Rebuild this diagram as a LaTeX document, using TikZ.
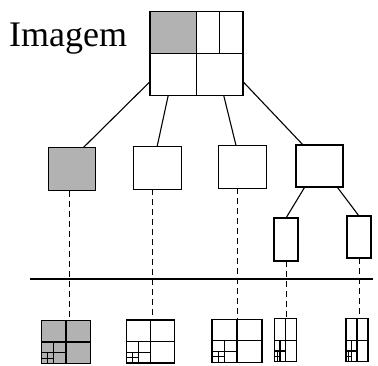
\documentclass[tikz,border=0pt]{standalone}
\usepackage{fontspec}
\setmainfont{Liberation Serif}
\usepackage{tikz}
\usetikzlibrary{calc}
\usetikzlibrary{positioning}
\definecolor{cellgray}{gray}{0.70}

\begin{document}
\begin{tikzpicture}[x=1pt,y=-1pt,
			box/.style = {
				draw, line width=1.3pt, inner sep=0pt, outer sep=0pt,
				minimum height=43pt
			},
			link/.style = {line width=1.1pt},
			drop/.style = {line width=1pt, dash pattern=on 6pt off 4pt},
			quadgrid/.style = {
				box, path picture={
					\foreach \f in {0.5,0.25,0.125}{
						\draw[line width=1.2pt] let \p1=(path picture bounding box.south west),
						\p2=(path picture bounding box.north east) in
						({\x1+\f*(\x2-\x1)},\y1) -- ({\x1+\f*(\x2-\x1)},{\y1+2*\f*(\y2-\y1)})
						(\x1,{\y1+\f*(\y2-\y1)}) -- ({\x1+2*\f*(\x2-\x1)},{\y1+\f*(\y2-\y1)});
					}
				}
			}]
			\useasboundingbox (0,0) rectangle (378,365);
			% imagem inteira
			\node (label) [anchor=base west, inner sep=0pt,
			font=\fontsize{36}{40}\selectfont] at (9,46.7) {Imagem};
			\node (img) [box, minimum width=93pt, minimum height=84pt,
			path picture={
				\fill[cellgray] (path picture bounding box.north west) rectangle (path picture bounding box.center);
				\draw[line width=1.3pt] (path picture bounding box.north) -- (path picture bounding box.south)
				(path picture bounding box.west) -- (path picture bounding box.east)
				($(path picture bounding box.north)!0.5!(path picture bounding box.north east)$)
				-- ($(path picture bounding box.center)!0.5!(path picture bounding box.east)$);
			}] at (196.5,53.7) {};
			% primeiro nivel
			\node (a) [box, fill=cellgray, minimum width=47pt] at (72,169) {};
			\node (b) [box, minimum width=48pt] at (157.2,167.7) {};
			\node (c) [box, minimum width=48pt] at (242.5,166.7) {};
			\node (d) [box, minimum width=47pt, minimum height=42pt] at (319.5,166) {};
			% segundo nivel
			\node (e) [box, minimum width=24pt] at (286,239.5) {};
			\node (f) [box, minimum width=24pt, minimum height=42pt] at (359,237) {};
			\path [link]
			(img.211) edge (a.62)
			(img.236) edge (b.north)
			(img.303) edge (c.107)
			(img.329) edge (d.128)
			(d.235) edge (e.north)
			(d.310) edge (f.north);
			% separador
			\coordinate (sepL) at (30,279);
			\coordinate (sepR) at (373,279);
			\draw [link] (sepL) -- (sepR);
			% blocos codificados
			\node (qa) [quadgrid, fill=cellgray, minimum width=49pt] at (66,342) {};
			\node (qb) [quadgrid, minimum width=48pt] at (150.5,341.5) {};
			\node (qc) [quadgrid, minimum width=50pt] at (237,340.7) {};
			\node (qd) [quadgrid, minimum width=22pt] at (285.5,340.3) {};
			\node (qe) [quadgrid, minimum width=22pt] at (357,340.3) {};
			\draw [drop] (a.south -| qa.80) -- (qa.80);
			\draw [drop] (b.south -| qb.84) -- (qb.84);
			\draw [drop] (c.south -| qc.88) -- (qc.88);
			\draw [drop] (e.south) -- (e.south |- qd.north);
			\draw [drop] (f.south) -- (f.south |- qe.north);
		\end{tikzpicture}
\end{document}
